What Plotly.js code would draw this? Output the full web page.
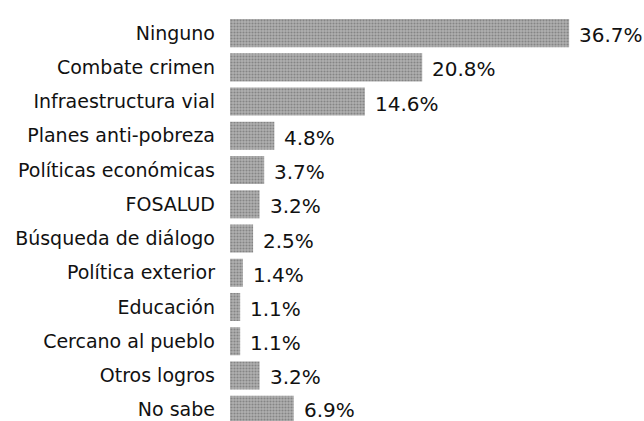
<!DOCTYPE html>
<html>
<head>
<meta charset="utf-8">
<script src="https://cdn.plot.ly/plotly-3.0.1.min.js"></script>
<style>html,body{margin:0;padding:0;background:#fff;}#chart{width:644px;height:421px;}</style>
</head>
<body>
<div id="chart"></div>
<script>
const categories = ["Ninguno","Combate crimen","Infraestructura vial","Planes anti-pobreza","Políticas económicas","FOSALUD","Búsqueda de diálogo","Política exterior","Educación","Cercano al pueblo","Otros logros","No sabe"];
const values = [36.7, 20.8, 14.6, 4.8, 3.7, 3.2, 2.5, 1.4, 1.1, 1.1, 3.2, 6.9];
const valueLabels = ["36.7%","20.8%","14.6%","4.8%","3.7%","3.2%","2.5%","1.4%","1.1%","1.1%","3.2%","6.9%"];

const trace = {
  type: 'bar',
  orientation: 'h',
  y: categories,
  x: values,
  marker: {
    color: '#a4a4a4',
    line: {width: 0},
    pattern: {shape: '.', size: 3, solidity: 0.4, fgcolor: '#858585', bgcolor: '#b0b0b0'}
  },
  hoverinfo: 'none'
};

const annotations = categories.map((c, i) => ({
  x: values[i], y: c, xref: 'x', yref: 'y',
  text: valueLabels[i], showarrow: false,
  xanchor: 'left', yanchor: 'middle', xshift: 8, yshift: i === categories.length - 1 ? 0 : -2,
  font: {family: 'DejaVu Sans', size: 20, color: '#111'}
}));

const layout = {
  width: 644, height: 421,
  margin: {l: 230, r: 0, t: 16, b: 0},
  paper_bgcolor: '#fff', plot_bgcolor: '#fff',
  showlegend: false,
  bargap: 0.18,
  xaxis: {range: [0, 44.8], visible: false, fixedrange: true},
  yaxis: {
    type: 'category',
    range: [11.33, -0.5],
    showgrid: false, zeroline: false, showline: false,
    ticks: '', ticklabelstandoff: 14,
    tickfont: {family: 'DejaVu Sans', size: 19, color: '#111'}
  },
  annotations: annotations
};

Plotly.newPlot('chart', [trace], layout, {displayModeBar: false, staticPlot: true});
</script>
</body>
</html>
